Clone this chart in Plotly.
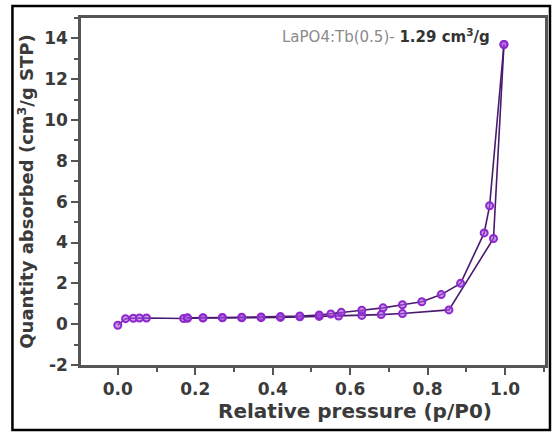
import plotly.graph_objects as go

# N2 adsorption / desorption isotherm, LaPO4:Tb(0.5)
ads_p = [0.0, 0.02, 0.04, 0.056, 0.074, 0.17, 0.18, 0.22, 0.27, 0.32, 0.37, 0.42,
         0.47, 0.52, 0.57, 0.63, 0.68, 0.735, 0.855, 0.97, 0.997]
ads_q = [-0.05, 0.27, 0.29, 0.3, 0.3, 0.28, 0.29, 0.3, 0.31, 0.31, 0.32, 0.33,
         0.36, 0.38, 0.4, 0.43, 0.47, 0.52, 0.7, 4.2, 13.7]

des_p = [0.997, 0.96, 0.946, 0.885, 0.835, 0.785, 0.735, 0.685, 0.63, 0.577,
         0.55, 0.52, 0.47, 0.42, 0.37, 0.32, 0.27, 0.22, 0.18]
des_q = [13.7, 5.8, 4.47, 2.0, 1.45, 1.1, 0.95, 0.8, 0.68, 0.58,
         0.5, 0.45, 0.4, 0.37, 0.35, 0.34, 0.33, 0.32, 0.31]

x_ticks = [0.0, 0.2, 0.4, 0.6, 0.8, 1.0]
y_ticks = [-2, 0, 2, 4, 6, 8, 10, 12, 14]

LINE = "#4a1a6e"
MARK = "#8e28cc"
FONT = "DejaVu Sans, Verdana, sans-serif"
TXT = "#3a3a3a"

fig = go.Figure()
for px, qy in ((ads_p, ads_q), (des_p, des_q)):
    fig.add_trace(go.Scatter(
        x=px, y=qy, mode="lines+markers",
        line=dict(color=LINE, width=1.6),
        marker=dict(symbol="circle", size=7, color="rgba(170,90,230,0.6)",
                    line=dict(color=MARK, width=2)),
        showlegend=False,
    ))

axis_common = dict(
    showline=True, linecolor="#555555", linewidth=2.5, mirror=True,
    ticks="outside", ticklen=7, tickwidth=1.5, tickcolor="#555555",
    showgrid=False, zeroline=False,
    tickfont=dict(family=FONT, size=17, color=TXT, weight="bold"),
)

fig.update_xaxes(range=[-0.095, 1.103], tickvals=x_ticks,
                 ticktext=[f"{v:.1f}" for v in x_ticks],
                 minor=dict(dtick=0.1, ticks="outside", ticklen=4, tickcolor="#555555"),
                 **axis_common)
fig.update_yaxes(range=[-2, 15.0], tickvals=y_ticks,
                 ticktext=[str(v) for v in y_ticks],
                 minor=dict(dtick=1, ticks="outside", ticklen=4, tickcolor="#555555"),
                 title=dict(text="Quantity absorbed (cm<sup>3</sup>/g STP)", standoff=6,
                            font=dict(family=FONT, size=18, color=TXT, weight="bold")),
                 **axis_common)

fig.add_annotation(
    xref="paper", yref="paper", x=(495 - 81) / 467, y=(365 - 36) / 347,
    xanchor="right", yanchor="middle", showarrow=False,
    text="<span style='color:#8a8a8a'>LaPO4:Tb(0.5)- </span><b>1.29 cm<sup>3</sup>/g</b>",
    font=dict(family=FONT, size=15, color="#333333"),
)
fig.add_annotation(
    xref="paper", yref="paper", x=(357 - 81) / 467, y=(365 - 411) / 347,
    xanchor="center", yanchor="middle", showarrow=False,
    text="Relative pressure (p/P0)",
    font=dict(family=FONT, size=20, color=TXT, weight="bold"),
)

# outer frame around the whole figure
fig.add_shape(type="rect", xref="paper", yref="paper",
              x0=(12 - 81) / 467, x1=(553 - 81) / 467,
              y0=(365 - 430) / 347, y1=(365 - 6) / 347,
              line=dict(color="black", width=2.5), layer="above")

fig.update_layout(
    width=555, height=432,
    margin=dict(l=81, r=7, t=18, b=67),
    paper_bgcolor="white", plot_bgcolor="white",
)

fig.write_html("out.html")
